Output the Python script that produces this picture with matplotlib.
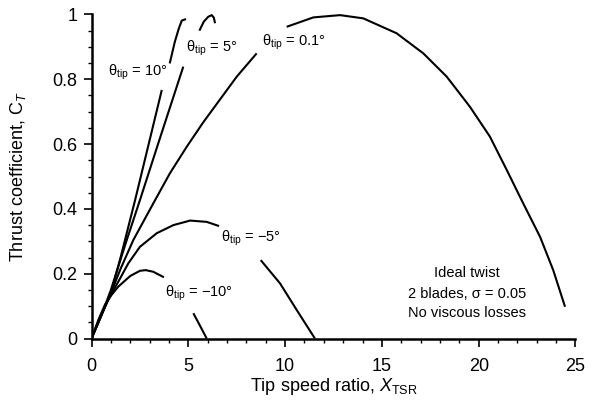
import matplotlib
matplotlib.use("Agg")
import matplotlib.pyplot as plt
from matplotlib.ticker import MultipleLocator, FuncFormatter

plt.rcParams['font.family'] = ['Liberation Sans', 'DejaVu Sans']
plt.rcParams['mathtext.fontset'] = 'custom'
plt.rcParams['mathtext.rm'] = 'Liberation Sans'
plt.rcParams['mathtext.it'] = 'Liberation Sans:italic'
plt.rcParams['mathtext.bf'] = 'Liberation Sans:bold'

# theta_tip = 10 deg (two segments, gap for label)
x10_a = [0, 0.5, 1.0, 1.5, 2.25, 2.9, 3.63]
y10_a = [0, 0.07, 0.14, 0.25, 0.427, 0.587, 0.767]
x10_b = [4.04, 4.3, 4.5, 4.66, 4.88]
y10_b = [0.849, 0.915, 0.955, 0.981, 0.986]

# theta_tip = 5 deg
x5_a = [0, 0.5, 1.0, 1.82, 2.5, 3.5, 4.74]
y5_a = [0, 0.07, 0.15, 0.304, 0.427, 0.612, 0.839]
x5_b = [5.57, 5.8, 6.03, 6.21, 6.32, 6.38]
y5_b = [0.95, 0.978, 0.993, 0.998, 0.99, 0.973]

# theta_tip = 0.1 deg
x01_a = [0, 0.5, 1.0, 1.5, 2.16, 3.19, 4.05, 4.92, 5.78, 6.64, 7.5, 8.53]
y01_a = [0, 0.07, 0.14, 0.215, 0.304, 0.417, 0.51, 0.592, 0.668, 0.738, 0.808, 0.88]
x01_b = [10.08, 11.46, 12.84, 14.04, 15.76, 17.14, 18.35, 19.55, 20.58, 21.45, 22.3, 23.17, 23.85, 24.46]
y01_b = [0.962, 0.991, 0.998, 0.988, 0.942, 0.88, 0.808, 0.715, 0.623, 0.52, 0.417, 0.314, 0.211, 0.098]

# theta_tip = -5 deg
xm5_a = [0, 0.5, 1.04, 1.38, 1.9, 2.5, 3.37, 4.23, 5.09, 5.95, 6.59]
ym5_a = [0, 0.075, 0.14, 0.175, 0.232, 0.283, 0.325, 0.35, 0.364, 0.36, 0.347]
xm5_b = [8.74, 9.74, 10.6, 11.54]
ym5_b = [0.242, 0.17, 0.088, 0.0]

# theta_tip = -10 deg
xm10_a = [0, 0.35, 0.7, 1.04, 1.38, 2.0, 2.5, 2.8, 3.19, 3.74]
ym10_a = [0, 0.057, 0.105, 0.135, 0.16, 0.193, 0.209, 0.211, 0.206, 0.189]
xm10_b = [5.26, 5.6, 5.95]
ym10_b = [0.078, 0.04, 0.0]

x_ticks = [0, 5, 10, 15, 20, 25]
y_ticks = [0, 0.2, 0.4, 0.6, 0.8, 1.0]

fig = plt.figure(figsize=(5.92, 4.08), dpi=100)
ax = fig.add_axes([0.1546, 0.1703, 0.8175, 0.7942])

segments = [(x10_a, y10_a), (x10_b, y10_b), (x5_a, y5_a), (x5_b, y5_b),
            (x01_a, y01_a), (x01_b, y01_b), (xm5_a, ym5_a), (xm5_b, ym5_b),
            (xm10_a, ym10_a), (xm10_b, ym10_b)]
for xs, ys in segments:
    ax.plot(xs, ys, color='black', lw=1.5, solid_capstyle='butt', solid_joinstyle='round')

ax.set_xlim(0, 25)
ax.set_ylim(0, 1)
ax.set_xticks(x_ticks)
ax.set_yticks(y_ticks)
ax.xaxis.set_minor_locator(MultipleLocator(1))
ax.yaxis.set_minor_locator(MultipleLocator(0.05))
ax.yaxis.set_major_formatter(FuncFormatter(lambda v, p: f"{v:g}"))
ax.xaxis.set_major_formatter(FuncFormatter(lambda v, p: f"{v:g}"))
for s in ['top', 'right']:
    ax.spines[s].set_visible(False)
for s in ['left', 'bottom']:
    ax.spines[s].set_linewidth(1.8)
ax.tick_params(which='major', direction='out', length=6, width=1.2, labelsize=13)
ax.tick_params(axis='x', which='major', pad=8)
ax.tick_params(axis='y', which='major', pad=4)
ax.tick_params(which='minor', direction='out', length=3, width=1.0)

ax.set_xlabel(r'Tip speed ratio, $X_{\mathrm{TSR}}$', fontsize=13, labelpad=1)
ax.set_ylabel(r'Thrust coefficient, C$_{T}$', fontsize=13, labelpad=18)

fs = 10.5
ax.text(0.85, 0.82, r'θ$_{\mathrm{tip}}$ = 10°', fontsize=fs, va='center', ha='left')
ax.text(4.88, 0.897, r'θ$_{\mathrm{tip}}$ = 5°', fontsize=fs, va='center', ha='left')
ax.text(8.8, 0.915, r'θ$_{\mathrm{tip}}$ = 0.1°', fontsize=fs, va='center', ha='left')
ax.text(6.69, 0.308, r'θ$_{\mathrm{tip}}$ = −5°', fontsize=fs, va='center', ha='left')
ax.text(3.8, 0.14, r'θ$_{\mathrm{tip}}$ = −10°', fontsize=fs, va='center', ha='left')

ax.text(19.4, 0.202, 'Ideal twist', fontsize=10.5, ha='center', va='center')
ax.text(19.4, 0.137, '2 blades, σ = 0.05', fontsize=10.5, ha='center', va='center')
ax.text(19.4, 0.078, 'No viscous losses', fontsize=10.5, ha='center', va='center')

fig.savefig('out.png', dpi=100)
